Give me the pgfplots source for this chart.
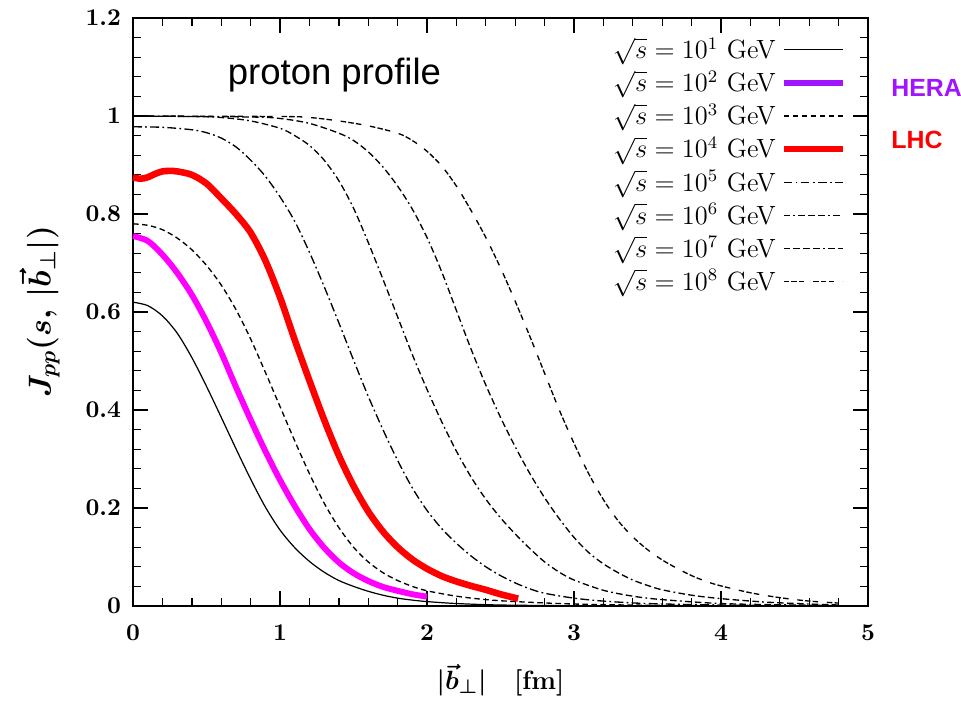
\documentclass[border=0pt]{standalone}
\usepackage{pgfplots}
\pgfplotsset{compat=1.18}
\usepackage{fontspec}
\newfontfamily\arial{Liberation Sans}
\definecolor{heramag}{RGB}{255,0,255}
\definecolor{herapurple}{RGB}{160,20,255}
\definecolor{lhcred}{RGB}{255,0,0}
\tikzset{
  s1/.style={black, line width=0.55pt},
  s2/.style={heramag, line width=2.7pt},
  s3/.style={black, line width=0.6pt, dash pattern=on 2.5pt off 1.6pt},
  s4/.style={lhcred, line width=3pt},
  s5/.style={black, line width=0.6pt, dash pattern=on 4pt off 1.5pt on 0.8pt off 1.5pt},
  s6/.style={black, line width=0.6pt, dash pattern=on 3pt off 1.5pt on 0.8pt off 1.5pt on 3pt off 1.5pt on 3pt off 1.5pt},
  s7/.style={black, line width=0.6pt, dash pattern=on 3pt off 1.5pt on 3pt off 1.5pt on 3pt off 1.5pt on 3pt off 1.5pt on 0.8pt off 1.5pt},
  s8/.style={black, line width=0.6pt, dash pattern=on 2.5pt off 1pt on 2.5pt off 1pt on 2.5pt off 4pt},
}
\begin{document}
\begin{tikzpicture}
\begin{axis}[
  scale only axis,
  width=334.1pt, height=267.3pt,
  xmin=0, xmax=5, ymin=0, ymax=1.2,
  xtick={0,1,2,3,4,5},
  ytick={0,0.2,0.4,0.6,0.8,1,1.2},
  minor x tick num=4, minor y tick num=4,
  major tick length=7pt, minor tick length=3.5pt,
  tick align=inside,
  xtick pos=both, ytick pos=both,
  axis line style={line width=0.7pt},
  every tick/.style={black, line width=0.6pt},
  tick label style={font=\fontsize{11}{13}\selectfont\boldmath},
  xticklabel style={yshift=-5pt},
  yticklabel style={xshift=-2pt},
  clip=false,
  xlabel={$|\vec{b}_{\perp}|\quad[\mathbf{fm}]$},
  ylabel={$J_{pp}(s,\,|\vec{b}_{\perp}|)$},
  xlabel style={font=\fontsize{12.5}{14}\selectfont\boldmath, at={(axis description cs:0.5,-0.126)}, anchor=center},
  ylabel style={font=\fontsize{14}{16}\selectfont\boldmath, at={(axis description cs:-0.127,0.5)}, anchor=center, rotate=0},
  legend plot pos=right,
  legend cell align=right,
  legend style={draw=none, fill=none, font=\fontsize{12}{13}\selectfont,
    at={(axis description cs:0.971,0.975)}, anchor=north east, row sep=0pt,
    inner sep=0pt},
  legend image code/.code={\draw[#1] (0pt,0pt) -- (27pt,0pt);},
]
\addlegendimage{s1}
\addlegendentry{$\sqrt{s}=10^{1}$ GeV}
\addlegendimage{herapurple, line width=2.7pt}
\addlegendentry{$\sqrt{s}=10^{2}$ GeV}
\addlegendimage{s3}
\addlegendentry{$\sqrt{s}=10^{3}$ GeV}
\addlegendimage{s4}
\addlegendentry{$\sqrt{s}=10^{4}$ GeV}
\addlegendimage{s5}
\addlegendentry{$\sqrt{s}=10^{5}$ GeV}
\addlegendimage{s6}
\addlegendentry{$\sqrt{s}=10^{6}$ GeV}
\addlegendimage{s7}
\addlegendentry{$\sqrt{s}=10^{7}$ GeV}
\addlegendimage{s8}
\addlegendentry{$\sqrt{s}=10^{8}$ GeV}

% 10^1
\addplot[s1, smooth, forget plot] coordinates {
(0,0.62)(0.1,0.613)(0.2,0.592)(0.3,0.557)(0.4,0.507)(0.5,0.448)(0.6,0.385)(0.7,0.321)(0.8,0.259)(0.9,0.202)(1.0,0.155)(1.1,0.119)(1.2,0.091)(1.3,0.069)(1.4,0.052)(1.5,0.04)(1.6,0.03)(1.7,0.022)(1.8,0.016)(1.9,0.012)(2.0,0.009)(2.2,0.005)(2.5,0.002)(3,0.0005)(3.5,0)
};
% 10^3
\addplot[s3, smooth, forget plot] coordinates {
(0,0.78)(0.1,0.777)(0.2,0.768)(0.3,0.751)(0.4,0.727)(0.5,0.695)(0.6,0.655)(0.7,0.605)(0.8,0.545)(0.9,0.477)(1.0,0.407)(1.1,0.337)(1.2,0.27)(1.3,0.21)(1.4,0.16)(1.5,0.12)(1.6,0.09)(1.7,0.068)(1.8,0.052)(1.9,0.04)(2.0,0.031)(2.2,0.02)(2.4,0.013)(2.6,0.009)(3.0,0.004)(3.5,0.0015)(4,0.0005)(4.8,0)
};
% 10^5
\addplot[s5, smooth, forget plot] coordinates {
(0,0.978)(0.2,0.977)(0.4,0.972)(0.5,0.966)(0.6,0.955)(0.7,0.937)(0.8,0.91)(0.9,0.877)(1.0,0.835)(1.1,0.785)(1.2,0.722)(1.3,0.652)(1.4,0.578)(1.5,0.502)(1.6,0.428)(1.7,0.36)(1.8,0.297)(1.9,0.241)(2.0,0.195)(2.1,0.158)(2.2,0.128)(2.3,0.102)(2.4,0.08)(2.5,0.062)(2.6,0.047)(2.7,0.035)(2.8,0.026)(3.0,0.016)(3.2,0.01)(3.5,0.005)(4,0.002)(4.8,0)
};
% 10^6
\addplot[s6, smooth, forget plot] coordinates {
(0,1.0)(0.4,0.999)(0.6,0.997)(0.8,0.99)(1.0,0.975)(1.1,0.96)(1.2,0.94)(1.3,0.91)(1.4,0.868)(1.5,0.812)(1.6,0.742)(1.7,0.667)(1.8,0.59)(1.9,0.513)(2.0,0.442)(2.1,0.376)(2.2,0.316)(2.3,0.263)(2.4,0.218)(2.5,0.18)(2.6,0.147)(2.7,0.117)(2.8,0.09)(2.9,0.069)(3.0,0.053)(3.2,0.032)(3.4,0.02)(3.6,0.013)(4.0,0.005)(4.5,0.002)(4.8,0.001)
};
% 10^7
\addplot[s7, smooth, forget plot] coordinates {
(0,1.0)(0.8,0.998)(1.0,0.995)(1.2,0.985)(1.4,0.965)(1.5,0.95)(1.6,0.927)(1.7,0.896)(1.8,0.857)(1.9,0.81)(2.0,0.752)(2.1,0.682)(2.2,0.603)(2.3,0.524)(2.4,0.451)(2.5,0.385)(2.6,0.325)(2.7,0.27)(2.8,0.221)(2.9,0.178)(3.0,0.14)(3.1,0.109)(3.2,0.086)(3.3,0.068)(3.4,0.053)(3.5,0.042)(3.6,0.033)(3.8,0.022)(4.0,0.015)(4.3,0.008)(4.6,0.004)(4.8,0.002)
};
% 10^8
\addplot[s8, smooth, forget plot] coordinates {
(0,1.0)(1.0,0.999)(1.2,0.997)(1.4,0.99)(1.6,0.98)(1.8,0.965)(1.9,0.95)(2.0,0.928)(2.1,0.898)(2.2,0.857)(2.3,0.807)(2.4,0.752)(2.5,0.69)(2.6,0.622)(2.7,0.55)(2.8,0.475)(2.9,0.4)(3.0,0.332)(3.1,0.27)(3.2,0.217)(3.3,0.174)(3.4,0.141)(3.5,0.115)(3.6,0.094)(3.7,0.077)(3.8,0.062)(3.9,0.05)(4.0,0.041)(4.2,0.027)(4.4,0.017)(4.6,0.01)(4.8,0.006)
};
% 10^2 (HERA)
\addplot[s2, smooth, forget plot] coordinates {
(0,0.755)(0.1,0.745)(0.2,0.717)(0.3,0.68)(0.4,0.635)(0.5,0.58)(0.6,0.517)(0.7,0.447)(0.8,0.38)(0.9,0.316)(1.0,0.257)(1.1,0.204)(1.2,0.157)(1.3,0.119)(1.4,0.089)(1.5,0.067)(1.6,0.051)(1.7,0.039)(1.8,0.031)(1.9,0.024)(2.0,0.019)
};
% 10^4 (LHC)
\addplot[s4, smooth, forget plot] coordinates {
(0,0.875)(0.05,0.872)(0.1,0.875)(0.15,0.882)(0.2,0.887)(0.25,0.888)(0.3,0.887)(0.4,0.88)(0.5,0.862)(0.6,0.832)(0.7,0.8)(0.8,0.762)(0.9,0.705)(1.0,0.63)(1.1,0.543)(1.2,0.46)(1.3,0.38)(1.4,0.307)(1.5,0.245)(1.6,0.193)(1.7,0.152)(1.8,0.12)(1.9,0.095)(2.0,0.076)(2.1,0.061)(2.2,0.05)(2.3,0.041)(2.4,0.033)(2.5,0.024)(2.62,0.015)
};

\node[font=\arial\fontsize{16.6}{19}\selectfont, anchor=center] at (axis cs:1.37,1.084) {proton profile};
\node[font=\arial\bfseries\fontsize{11.3}{13}\selectfont, text=herapurple, anchor=west, inner sep=0pt] at (axis cs:5.157,1.057) {HERA};
\node[font=\arial\bfseries\fontsize{11.3}{13}\selectfont, text=lhcred, anchor=west, inner sep=0pt] at (axis cs:5.157,0.951) {LHC};
\end{axis}
\pgfresetboundingbox
\path[use as bounding box] ([xshift=-60.5pt,yshift=-43.6pt]current axis.south west) rectangle ([xshift=42.3pt,yshift=8.2pt]current axis.north east);
\end{tikzpicture}
\end{document}
